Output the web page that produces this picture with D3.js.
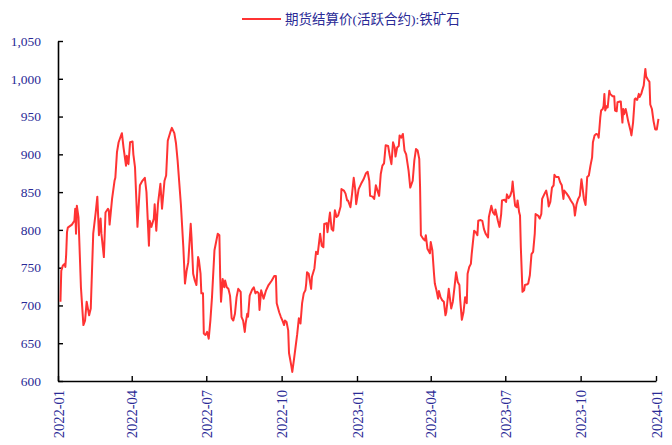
<!DOCTYPE html>
<html lang="zh">
  <head>
    <meta charset="UTF-8" />
    <title>期货结算价(活跃合约):铁矿石</title>
    <script src="https://d3js.org/d3.v7.min.js"></script>
    <style>
      body {
        margin: 0;
        background: #fff;
      }
      .tick text {
        font-family: "Liberation Serif", "Times New Roman", serif;
        font-size: 13.5px;
        fill: #2a2a96;
      }
      .x-axis .tick text {
        font-size: 14.5px;
      }
      .domain,
      .tick line {
        stroke: #000;
      }
      .legend text {
        font-family: "Liberation Serif", "Noto Sans CJK SC", serif;
        font-size: 13.5px;
        fill: #2a2a96;
      }
    </style>
  </head>
  <body>
    <svg id="chart" width="672" height="445"></svg>

    <script>
      const seriesName = "期货结算价(活跃合约):铁矿石";

      const dates = [
        "2022-01-04", "2022-01-05", "2022-01-07", "2022-01-09", "2022-01-10", "2022-01-11",
        "2022-01-12", "2022-01-13", "2022-01-18", "2022-01-21", "2022-01-22", "2022-01-23",
        "2022-01-24", "2022-01-26", "2022-01-29", "2022-02-01", "2022-02-03", "2022-02-05",
        "2022-02-08", "2022-02-10", "2022-02-13", "2022-02-16", "2022-02-18", "2022-02-20",
        "2022-02-22", "2022-02-23", "2022-02-26", "2022-02-28", "2022-03-03", "2022-03-04",
        "2022-03-05", "2022-03-08", "2022-03-11", "2022-03-12", "2022-03-14", "2022-03-16",
        "2022-03-20", "2022-03-22", "2022-03-25", "2022-03-26", "2022-03-28", "2022-03-30",
        "2022-04-02", "2022-04-03", "2022-04-05", "2022-04-08", "2022-04-11", "2022-04-14",
        "2022-04-17", "2022-04-19", "2022-04-22", "2022-04-23", "2022-04-25", "2022-04-28",
        "2022-04-29", "2022-05-01", "2022-05-03", "2022-05-06", "2022-05-08", "2022-05-11",
        "2022-05-13", "2022-05-15", "2022-05-18", "2022-05-20", "2022-05-23", "2022-05-25",
        "2022-05-27", "2022-05-31", "2022-06-03", "2022-06-05", "2022-06-07", "2022-06-09",
        "2022-06-12", "2022-06-13", "2022-06-15", "2022-06-17", "2022-06-19", "2022-06-21",
        "2022-06-22", "2022-06-24", "2022-06-25", "2022-06-27", "2022-06-28", "2022-06-30",
        "2022-07-02", "2022-07-04", "2022-07-06", "2022-07-08", "2022-07-11", "2022-07-13",
        "2022-07-15", "2022-07-17", "2022-07-18", "2022-07-19", "2022-07-21", "2022-07-23",
        "2022-07-24", "2022-07-26", "2022-07-28", "2022-07-30", "2022-08-01", "2022-08-03",
        "2022-08-05", "2022-08-07", "2022-08-09", "2022-08-12", "2022-08-13", "2022-08-15",
        "2022-08-17", "2022-08-18", "2022-08-20", "2022-08-21", "2022-08-23", "2022-08-26",
        "2022-08-28", "2022-08-30", "2022-09-01", "2022-09-03", "2022-09-04", "2022-09-06",
        "2022-09-09", "2022-09-12", "2022-09-15", "2022-09-19", "2022-09-22", "2022-09-24",
        "2022-09-25", "2022-09-28", "2022-09-30", "2022-10-02", "2022-10-04", "2022-10-05",
        "2022-10-07", "2022-10-09", "2022-10-10", "2022-10-13", "2022-10-14", "2022-10-16",
        "2022-10-18", "2022-10-20", "2022-10-22", "2022-10-24", "2022-10-26", "2022-10-28",
        "2022-10-30", "2022-10-31", "2022-11-01", "2022-11-03", "2022-11-06", "2022-11-07",
        "2022-11-10", "2022-11-12", "2022-11-14", "2022-11-16", "2022-11-17", "2022-11-19",
        "2022-11-21", "2022-11-22", "2022-11-25", "2022-11-26", "2022-11-29", "2022-12-01",
        "2022-12-03", "2022-12-05", "2022-12-07", "2022-12-09", "2022-12-12", "2022-12-13",
        "2022-12-16", "2022-12-18", "2022-12-20", "2022-12-21", "2022-12-24", "2022-12-26",
        "2022-12-28", "2022-12-30", "2022-12-31", "2023-01-03", "2023-01-06", "2023-01-09",
        "2023-01-12", "2023-01-14", "2023-01-16", "2023-01-17", "2023-01-20", "2023-01-22",
        "2023-01-24", "2023-01-26", "2023-01-28", "2023-01-30", "2023-02-01", "2023-02-03",
        "2023-02-05", "2023-02-08", "2023-02-10", "2023-02-12", "2023-02-14", "2023-02-16",
        "2023-02-17", "2023-02-19", "2023-02-21", "2023-02-22", "2023-02-24", "2023-02-26",
        "2023-02-28", "2023-03-02", "2023-03-05", "2023-03-07", "2023-03-10", "2023-03-12",
        "2023-03-14", "2023-03-16", "2023-03-18", "2023-03-19", "2023-03-20", "2023-03-23",
        "2023-03-25", "2023-03-26", "2023-03-28", "2023-03-29", "2023-03-31", "2023-04-01",
        "2023-04-03", "2023-04-05", "2023-04-06", "2023-04-08", "2023-04-10", "2023-04-11",
        "2023-04-13", "2023-04-15", "2023-04-17", "2023-04-19", "2023-04-20", "2023-04-23",
        "2023-04-24", "2023-04-26", "2023-04-28", "2023-04-30", "2023-05-02", "2023-05-04",
        "2023-05-06", "2023-05-07", "2023-05-09", "2023-05-11", "2023-05-13", "2023-05-15",
        "2023-05-16", "2023-05-18", "2023-05-20", "2023-05-21", "2023-05-24", "2023-05-26",
        "2023-05-28", "2023-05-29", "2023-06-01", "2023-06-03", "2023-06-05", "2023-06-07",
        "2023-06-10", "2023-06-11", "2023-06-14", "2023-06-16", "2023-06-18", "2023-06-19",
        "2023-06-22", "2023-06-24", "2023-06-26", "2023-06-27", "2023-06-30", "2023-07-02",
        "2023-07-03", "2023-07-05", "2023-07-07", "2023-07-09", "2023-07-10", "2023-07-11",
        "2023-07-13", "2023-07-15", "2023-07-16", "2023-07-18", "2023-07-19", "2023-07-20",
        "2023-07-22", "2023-07-24", "2023-07-25", "2023-07-28", "2023-07-29", "2023-07-31",
        "2023-08-02", "2023-08-04", "2023-08-06", "2023-08-07", "2023-08-10", "2023-08-12",
        "2023-08-14", "2023-08-15", "2023-08-18", "2023-08-20", "2023-08-22", "2023-08-23",
        "2023-08-25", "2023-08-27", "2023-08-29", "2023-08-30", "2023-09-01", "2023-09-04",
        "2023-09-06", "2023-09-08", "2023-09-10", "2023-09-11", "2023-09-14", "2023-09-17",
        "2023-09-19", "2023-09-22", "2023-09-23", "2023-09-24", "2023-09-26", "2023-09-28",
        "2023-09-30", "2023-10-02", "2023-10-03", "2023-10-05", "2023-10-07", "2023-10-09",
        "2023-10-11", "2023-10-13", "2023-10-15", "2023-10-16", "2023-10-18", "2023-10-20",
        "2023-10-22", "2023-10-23", "2023-10-25", "2023-10-26", "2023-10-28", "2023-10-29",
        "2023-10-30", "2023-10-31", "2023-11-02", "2023-11-03", "2023-11-05", "2023-11-06",
        "2023-11-09", "2023-11-11", "2023-11-12", "2023-11-14", "2023-11-15", "2023-11-18",
        "2023-11-19", "2023-11-21", "2023-11-22", "2023-11-23", "2023-11-25", "2023-11-26",
        "2023-11-28", "2023-12-01", "2023-12-02", "2023-12-04", "2023-12-06", "2023-12-07",
        "2023-12-09", "2023-12-11", "2023-12-12", "2023-12-14", "2023-12-15", "2023-12-17",
        "2023-12-19", "2023-12-20", "2023-12-22", "2023-12-24", "2023-12-25", "2023-12-27",
        "2023-12-29", "2023-12-31", "2024-01-02", "2024-01-03", "2024-01-04"
      ];

      const prices = [
        705, 746, 753, 755, 751, 768,
        797, 803, 807, 812, 828, 795,
        832, 817, 724, 674, 680, 705,
        687, 696, 795, 823, 844, 793,
        815, 795, 764, 823, 828, 826,
        807, 841, 865, 869, 903, 916,
        928, 909, 885, 898, 887, 916,
        917, 900, 883, 804, 859, 865,
        869, 850, 779, 812, 804, 815,
        834, 799, 834, 861, 828, 865,
        872, 918, 929, 935, 928, 915,
        892, 834, 777, 729, 746, 757,
        808, 790, 742, 733, 727, 764,
        760, 742, 716, 716, 663, 661,
        665, 656, 680, 711, 773, 784,
        795, 793, 738, 705, 735, 724,
        733, 724, 722, 713, 683, 680,
        689, 711, 722, 718, 685, 680,
        665, 676, 689, 685, 713, 721,
        724, 716, 718, 716, 694, 720,
        709, 720, 727, 733, 739, 739,
        703, 691, 685, 680, 674, 680,
        678, 667, 637, 619, 612, 628,
        645, 662, 683, 676, 703, 716,
        720, 729, 744, 742, 722, 738,
        749, 771, 768, 786, 795, 779,
        777, 808, 809, 797, 823, 801,
        799, 826, 817, 819, 831, 854,
        852, 848, 839, 839, 830, 848,
        869, 852, 834, 854, 861, 867,
        875, 877, 865, 845, 844, 841,
        859, 852, 845, 874, 885, 888,
        912, 911, 898, 887, 916, 909,
        897, 909, 911, 925, 922, 927,
        905, 900, 878, 856, 865, 892,
        907, 905, 894, 856, 793, 788,
        786, 793, 775, 773, 769, 784,
        773, 742, 729, 720, 709, 719,
        711, 707, 705, 687, 691, 722,
        713, 696, 705, 724, 744, 731,
        727, 707, 681, 691, 711, 703,
        742, 751, 755, 768, 799, 797,
        793, 812, 813, 812, 801, 795,
        790, 817, 832, 823, 820, 827,
        812, 804, 821, 839, 840, 837,
        847, 842, 845, 852, 864, 852,
        832, 830, 839, 823, 819, 777,
        718, 720, 727, 728, 729, 740,
        768, 771, 795, 821, 819, 815,
        821, 841, 848, 852, 841, 831,
        837, 856, 859, 873, 870, 870,
        863, 859, 841, 852, 848, 843,
        839, 834, 830, 819, 834, 841,
        845, 867, 859, 841, 833, 870,
        872, 885, 896, 916, 925, 927,
        926, 922, 949, 958, 960, 964,
        980, 958, 964, 962, 984, 980,
        977, 977, 958, 957, 969, 970,
        970, 942, 960, 953, 960, 955,
        944, 931, 925, 942, 973, 974,
        972, 980, 976, 980, 984, 991,
        1013, 1003, 999, 996, 966, 960,
        944, 933, 933, 940, 947
      ];

      const yTicks = [600, 650, 700, 750, 800, 850, 900, 950, 1000, 1050];
      const xTicks = [
        "2022-01", "2022-04", "2022-07", "2022-10", "2023-01",
        "2023-04", "2023-07", "2023-10", "2024-01"
      ];

      const parseDay = d3.timeParse("%Y-%m-%d");
      const parseMonth = d3.timeParse("%Y-%m");
      const data = dates.map((d, i) => ({ date: parseDay(d), value: prices[i] }));

      const svg = d3.select("#chart");
      const margin = { top: 41, right: 16, bottom: 64, left: 58 };
      const width = +svg.attr("width") - margin.left - margin.right;
      const height = +svg.attr("height") - margin.top - margin.bottom;

      svg.append("rect").attr("width", 672).attr("height", 445).attr("fill", "#fff");

      const g = svg
        .append("g")
        .attr("transform", `translate(${margin.left},${margin.top})`);

      const x = d3
        .scaleTime()
        .domain([parseMonth(xTicks[0]), parseMonth(xTicks[xTicks.length - 1])])
        .range([0, width]);
      const y = d3
        .scaleLinear()
        .domain([yTicks[0], yTicks[yTicks.length - 1]])
        .range([height, 0]);

      // y axis, ticks pointing inward
      const yAxis = g
        .append("g")
        .call(
          d3
            .axisLeft(y)
            .tickValues(yTicks)
            .tickFormat(d3.format(","))
            .tickSizeInner(-5)
            .tickSizeOuter(0)
            .tickPadding(17)
        );
      yAxis.select(".domain").attr("stroke-width", 1.6);
      yAxis.selectAll(".tick line").attr("stroke-width", 1.4);

      // x axis with rotated labels
      const xAxis = g
        .append("g")
        .attr("class", "x-axis")
        .attr("transform", `translate(0,${height})`)
        .call(
          d3
            .axisBottom(x)
            .tickValues(xTicks.map(parseMonth))
            .tickFormat(d3.timeFormat("%Y-%m"))
            .tickSizeInner(-5)
            .tickSizeOuter(0)
        );
      xAxis.select(".domain").attr("stroke-width", 1.6);
      xAxis.selectAll(".tick line").attr("stroke-width", 1.4);
      xAxis
        .selectAll(".tick text")
        .attr("transform", "rotate(-90)")
        .attr("text-anchor", "end")
        .attr("x", -9)
        .attr("y", 0)
        .attr("dy", "0.35em");

      // price line
      const line = d3
        .line()
        .x((d) => x(d.date))
        .y((d) => y(d.value));

      g.append("path")
        .datum(data)
        .attr("fill", "none")
        .attr("stroke", "#ff3333")
        .attr("stroke-width", 2)
        .attr("stroke-linejoin", "round")
        .attr("d", line);

      // legend
      const legend = svg.append("g").attr("class", "legend");
      legend
        .append("line")
        .attr("x1", 242)
        .attr("x2", 281)
        .attr("y1", 19)
        .attr("y2", 19)
        .attr("stroke", "#ff3333")
        .attr("stroke-width", 2);
      legend.append("text").attr("x", 285).attr("y", 24).text(seriesName);
    </script>
  </body>
</html>
